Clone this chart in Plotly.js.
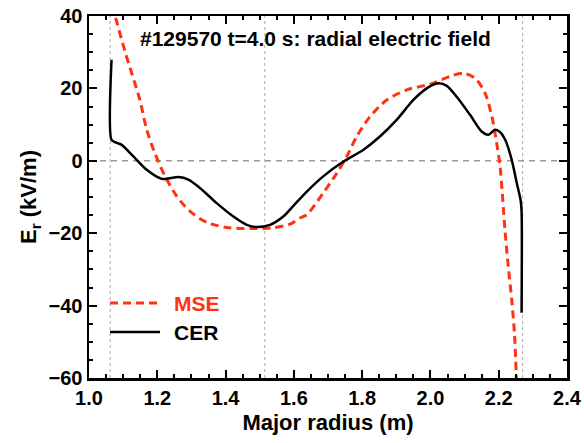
<!DOCTYPE html>
<html>
<head>
<meta charset="utf-8">
<script src="https://cdn.plot.ly/plotly-3.0.1.min.js"></script>
<style>html,body{margin:0;padding:0;background:#fff}#chart{width:584px;height:443px}</style>
</head>
<body>
<div id="chart"></div>
<script>
// CER (charge exchange recombination) radial electric field
const cerR  = [1.066, 1.066, 1.080, 1.096, 1.130, 1.169, 1.213, 1.237, 1.262, 1.291, 1.325, 1.374, 1.423, 1.462, 1.491, 1.530, 1.569, 1.600, 1.638, 1.686, 1.745, 1.803, 1.852, 1.901, 1.950, 1.989, 2.023, 2.048, 2.077, 2.116, 2.150, 2.170, 2.189, 2.202, 2.219, 2.238, 2.253, 2.264, 2.267, 2.267];
const cerEr = [27.9,  5.8,   5.0,   4.4,   1.2,   -2.5,  -5.0,  -4.8,  -4.5,  -5.2,  -7.5,  -11.7, -15.4, -17.7, -18.3, -17.7, -15.4, -12.3, -8.5,  -4.3,  -0.2,  3.0,   6.7,   11.3,  16.8,  20.0,  21.4,  20.7,  17.7,  12.7,  8.1,   7.2,   8.6,   8.1,   5.8,   0.3,   -6.2,  -10.8, -14.0, -42.0];
// MSE (motional Stark effect) radial electric field
const mseR  = [1.070, 1.076, 1.107, 1.149, 1.169, 1.193, 1.223, 1.257, 1.296, 1.345, 1.403, 1.472, 1.540, 1.589, 1.618, 1.638, 1.686, 1.726, 1.755, 1.784, 1.823, 1.872, 1.931, 2.000, 2.057, 2.096, 2.131, 2.160, 2.180, 2.194, 2.204, 2.219, 2.228, 2.238, 2.246, 2.253];
const mseEr = [43.0,  40.3,  29.7,  16.8,  8.6,   2.1,   -4.3,  -9.8,  -14.0, -17.0, -18.4, -18.7, -18.5, -17.5, -15.8, -14.9, -8.9,  -3.4,  1.2,   6.7,   12.2,  16.8,  19.6,  21.2,  23.3,  24.2,  22.8,  18.7,  12.2,  4.9,   -1.6,  -19.9, -29.2, -38.3, -47.5, -63.0];
const refLines = [1.062, 1.515, 2.27];
const zeroLevel = 0;
const xTicks = [1.0, 1.2, 1.4, 1.6, 1.8, 2.0, 2.2, 2.4];
const yTicks = [-60, -40, -20, 0, 20, 40];
const titleText = '#129570 t=4.0 s: radial electric field';
const seriesNames = ['MSE', 'CER'];

const FONT = '"Liberation Sans", Arial, Helvetica, sans-serif';
const RED = '#ff3311';
const BLACK = '#000000';
const colors = [RED, BLACK];

const traces = [
  {x: mseR, y: mseEr, mode: 'lines', name: seriesNames[0], showlegend: false,
   line: {color: RED, width: 3, dash: '8px,5px', shape: 'spline', smoothing: 0.8}},
  {x: cerR, y: cerEr, mode: 'lines', name: seriesNames[1], showlegend: false,
   line: {color: BLACK, width: 2.5, shape: 'spline', smoothing: 0.7}}
];

const shapes = refLines.map(v => ({type: 'line', xref: 'x', yref: 'paper', x0: v, x1: v, y0: 0, y1: 1,
  line: {color: '#aaa', width: 1, dash: 'dot'}, layer: 'below'}));
shapes.push({type: 'line', xref: 'paper', yref: 'y', x0: 0, x1: 1, y0: zeroLevel, y1: zeroLevel,
  line: {color: '#999', width: 1.5, dash: '6px,5px'}, layer: 'below'});

// custom legend (key lines + labels), placed in paper coordinates
const legendY = [0.207, 0.127];
const legendDash = ['8px,5px', 'solid'];
const legendWidth = [3, 2.5];
const annotations = [{xref: 'paper', yref: 'paper', x: 0.473, y: 0.939, xanchor: 'center', yanchor: 'middle',
  text: titleText, showarrow: false, font: {family: FONT, size: 21, color: '#000', weight: 'bold'}}];
seriesNames.forEach((n, i) => {
  shapes.push({type: 'line', xref: 'paper', yref: 'paper', x0: 0.044, x1: 0.1485, y0: legendY[i], y1: legendY[i],
    line: {color: colors[i], width: legendWidth[i], dash: legendDash[i]}});
  annotations.push({xref: 'paper', yref: 'paper', x: 0.174, y: legendY[i], xanchor: 'left', yanchor: 'middle',
    text: n, showarrow: false, font: {family: FONT, size: 21, color: colors[i], weight: 'bold'}});
});

const axisCommon = {
  showgrid: false, zeroline: false, showline: true, linecolor: '#000', linewidth: 2.5,
  mirror: 'allticks', ticks: 'inside', ticklen: 8, tickwidth: 2, tickcolor: '#000',
  tickfont: {family: FONT, size: 20, color: '#000', weight: 'bold'}
};
const titleFont = {family: FONT, size: 22, color: '#000', weight: 'bold'};

const layout = {
  width: 584, height: 443,
  margin: {l: 89, r: 17, t: 16, b: 65},
  paper_bgcolor: '#fff', plot_bgcolor: '#fff',
  showlegend: false,
  xaxis: Object.assign({}, axisCommon, {range: [1.0, 2.4], tickvals: xTicks,
    ticktext: xTicks.map(v => v.toFixed(1)),
    minor: {dtick: 0.05, ticks: 'inside', ticklen: 4, tickwidth: 2, tickcolor: '#000'},
    title: {text: 'Major radius (m)', standoff: 7, font: titleFont}}),
  yaxis: Object.assign({}, axisCommon, {range: [-60, 40], tickvals: yTicks,
    minor: {dtick: 5, ticks: 'inside', ticklen: 4, tickwidth: 2, tickcolor: '#000'},
    title: {text: 'E<sub>r</sub> (kV/m)', standoff: 6, font: titleFont}}),
  shapes: shapes,
  annotations: annotations
};

Plotly.newPlot('chart', traces, layout, {staticPlot: true, displayModeBar: false});
</script>
</body>
</html>
